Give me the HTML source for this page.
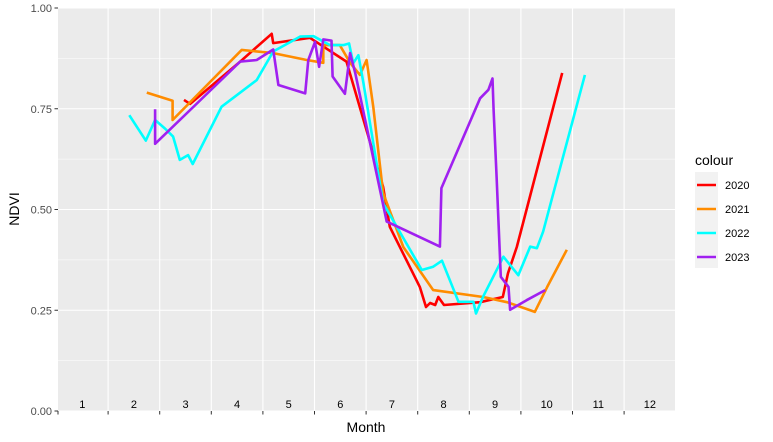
<!DOCTYPE html>
<html><head><meta charset="utf-8"><style>
html,body{margin:0;padding:0;background:#fff;}
svg{display:block;font-family:"Liberation Sans",sans-serif;}
</style></head><body>
<svg id="chart" width="773" height="442" viewBox="0 0 773 442" xmlns="http://www.w3.org/2000/svg">
<rect x="58" y="8" width="617" height="403" fill="#EBEBEB"/>
<g id="grid"></g>
<g id="lines"></g>
<g id="axes"></g>
<text x="366" y="432" font-size="14" text-anchor="middle" fill="#000">Month</text>
<text x="0" y="0" transform="translate(19,209) rotate(-90)" font-size="14" text-anchor="middle" fill="#000">NDVI</text>
<g id="legend">
<text x="695" y="165" font-size="14" fill="#000">colour</text>
<rect x="695" y="172" width="23" height="96" fill="#F2F2F2"/>
</g>
</svg>
<script>
const months = ["1","2","3","4","5","6","7","8","9","10","11","12"];
const yTicks = [0, 0.25, 0.5, 0.75, 1];
const yTickLabels = ["0.00","0.25","0.50","0.75","1.00"];
const seriesNames = ["2020","2021","2022","2023"];
const colors = ["#FF0000","#FF8C00","#00FFFF","#A020F0"];
const m2020 = [3.47,3.59,4.56,5.17,5.20,5.91,6.62,7.33,7.46,8.04,8.16,8.24,8.34,8.40,8.51,9.21,9.65,9.75,9.92,10.80];
const v2020 = [0.772,0.762,0.867,0.936,0.913,0.926,0.867,0.556,0.457,0.308,0.258,0.268,0.263,0.283,0.263,0.270,0.283,0.342,0.407,0.839];
const m2021 = [2.75,3.25,3.25,4.59,5.20,5.85,6.17,6.17,6.49,6.69,6.88,7.01,7.14,7.33,7.72,8.30,9.27,9.73,10.27,10.51,10.89];
const v2021 = [0.790,0.770,0.722,0.896,0.888,0.871,0.864,0.908,0.908,0.864,0.834,0.871,0.754,0.541,0.407,0.300,0.283,0.270,0.246,0.308,0.400];
const m2022 = [2.41,2.73,2.91,3.10,3.26,3.39,3.55,3.64,4.20,4.88,5.20,5.72,5.98,6.30,6.56,6.67,6.75,6.85,6.95,7.33,8.08,8.30,8.47,8.79,9.08,9.13,9.27,9.66,9.95,10.18,10.31,10.43,11.24];
const v2022 = [0.734,0.671,0.722,0.701,0.681,0.623,0.635,0.613,0.755,0.821,0.892,0.929,0.930,0.908,0.908,0.912,0.863,0.883,0.813,0.516,0.350,0.358,0.373,0.271,0.271,0.242,0.284,0.383,0.337,0.408,0.404,0.445,0.834];
const m2023 = [2.91,2.91,3.72,4.56,4.88,5.20,5.30,5.82,5.88,6.01,6.09,6.17,6.33,6.35,6.59,6.69,6.79,7.40,8.43,8.46,9.21,9.37,9.45,9.47,9.53,9.61,9.76,9.79,10.11,10.47];
const v2023 = [0.749,0.663,0.763,0.867,0.871,0.897,0.809,0.788,0.871,0.916,0.854,0.922,0.919,0.830,0.787,0.888,0.838,0.470,0.408,0.553,0.776,0.797,0.825,0.747,0.581,0.333,0.308,0.251,0.275,0.300];
const seriesM = [m2020,m2021,m2022,m2023];
const seriesV = [v2020,v2021,v2022,v2023];

const NS="http://www.w3.org/2000/svg";
const PL=58, PR=675, PT=8, PB=411;
function xScale(m){return 56.5+51.6*(m-1);}
function yScale(v){return PB-403*v;}
function mk(tag,attrs,parent){const e=document.createElementNS(NS,tag);for(const k in attrs)e.setAttribute(k,attrs[k]);parent.appendChild(e);return e;}
const grid=document.getElementById('grid'), lines=document.getElementById('lines'), axes=document.getElementById('axes'), legend=document.getElementById('legend');
// minor horizontal
for(let i=0;i<yTicks.length-1;i++){
  const y=yScale((yTicks[i]+yTicks[i+1])/2);
  const l=mk('line',{x1:PL,x2:PR,y1:y,y2:y,stroke:"#fff","stroke-width":0.55},grid);
  
  
}
yTicks.forEach((t,i)=>{
  const y=yScale(t);
  const l=mk('line',{x1:PL,x2:PR,y1:y,y2:y,stroke:"#fff","stroke-width":1.1},grid);
  
  
  const tk=mk('line',{x1:PL-3.5,x2:PL,y1:y,y2:y,stroke:"#333","stroke-width":1},axes);
  
  
  const tx=mk('text',{x:PL-6,y:y+4,"font-size":11,"text-anchor":"end",fill:"#4D4D4D"},axes);
  tx.textContent=yTickLabels[i];
  
  
});
for(let k=0;k<=12;k++){
  const x=Math.max(PL,xScale(1+k));
  if(x>PR)continue;
  if(k>0&&k<12){
    const l=mk('line',{x1:x,x2:x,y1:PT,y2:PB,stroke:"#fff","stroke-width":1.1},grid);
    
    
  }
  if(k<12){
    const tk=mk('line',{x1:x,x2:x,y1:PB,y2:PB+3.5,stroke:"#333","stroke-width":1},axes);
    
    
  }
}
months.forEach((m,i)=>{
  const tx=mk('text',{x:xScale(i+1.5),y:PB-3,"font-size":11,"text-anchor":"middle",fill:"#000"},axes);
  tx.textContent=m;
  
  
});
seriesNames.forEach((n,s)=>{
  const pts=seriesM[s].map((m,i)=>xScale(m).toFixed(1)+","+yScale(seriesV[s][i]).toFixed(1)).join(" ");
  const p=mk('polyline',{points:pts,fill:"none",stroke:colors[s],"stroke-width":2.6,"stroke-linejoin":"round"},lines);
  
  
  const y=185+24*s;
  const ll=mk('line',{x1:697,x2:716,y1:y,y2:y,stroke:colors[s],"stroke-width":2.6},legend);
  
  
  const lt=mk('text',{x:725,y:y+4,"font-size":11,fill:"#000"},legend);
  lt.textContent=n;
  
  
});
</script>
</body></html>
